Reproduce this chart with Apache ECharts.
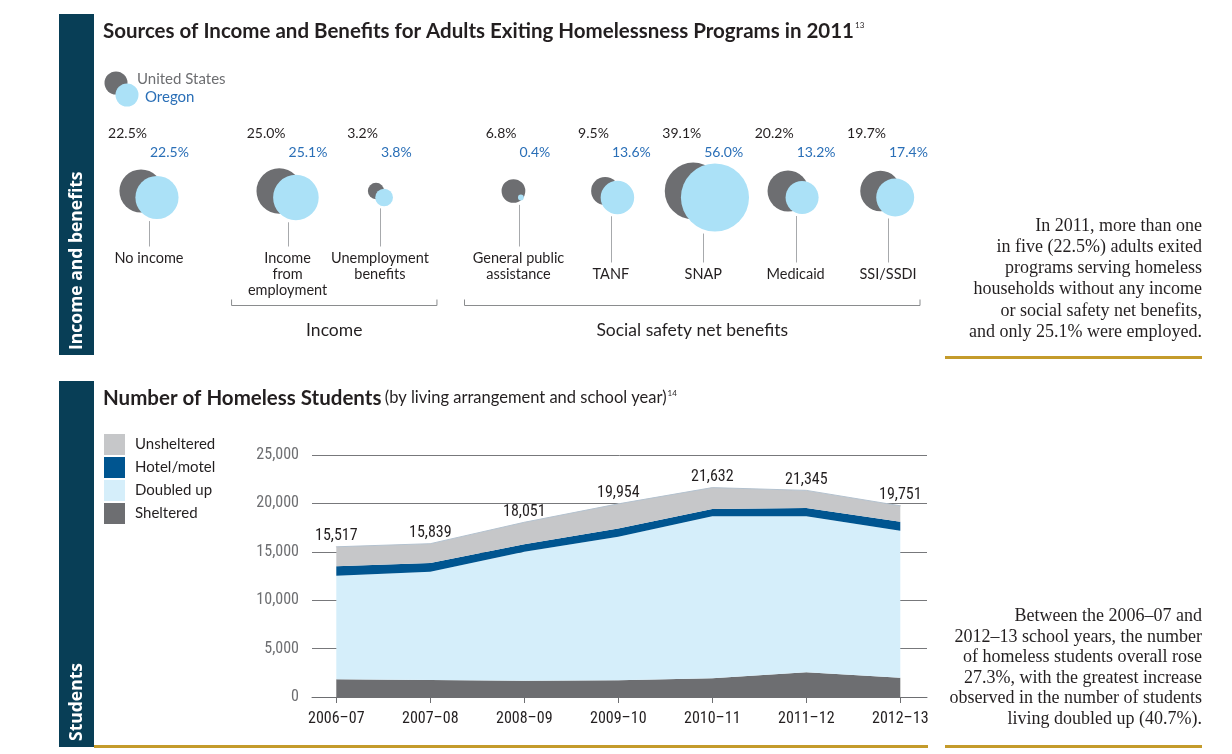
<!DOCTYPE html>
<html><head><meta charset="utf-8">
<script src="https://cdn.jsdelivr.net/npm/echarts@6/dist/echarts.min.js"></script>
<style>html,body{margin:0;padding:0;background:#fff;}#c{width:1232px;height:754px;}</style>
</head><body><div id="c"></div>
<script>
// ---------- Data: bubble chart ----------
const bubbleCategories = ['No income', 'Income\nfrom\nemployment', 'Unemployment\nbenefits', 'General public\nassistance', 'TANF', 'SNAP', 'Medicaid', 'SSI/SSDI'];
const bubbleGroups = [0, 1, 1, 2, 2, 2, 2, 2];
const groupNames = ['', 'Income', 'Social safety net benefits'];
const usValues = [22.5, 25.0, 3.2, 6.8, 9.5, 39.1, 20.2, 19.7];
const oregonValues = [22.5, 25.1, 3.8, 0.4, 13.6, 56.0, 13.2, 17.4];

// ---------- Data: area chart ----------
const schoolYears = ['2006–07', '2007–08', '2008–09', '2009–10', '2010–11', '2011–12', '2012–13'];
const sheltered = [1830, 1760, 1690, 1720, 1930, 2550, 1990];
const doubledUp = [10700, 11190, 13320, 14840, 16740, 16120, 15190];
const hotelMotel = [970, 890, 760, 840, 750, 855, 930];
const unsheltered = [2017, 1999, 2281, 2554, 2212, 1820, 1641];
const totals = [15517, 15839, 18051, 19954, 21632, 21345, 19751];

// ---------- Styles ----------
const NAVY = '#083e56', GOLD = '#c49b2b', DARK = '#231f20', GRAY = '#6d6e71';
const US_COLOR = '#6d6e71', OR_COLOR = '#abe1f7', OR_TEXT = '#2a6fb7';
const SANS = 'Lato, "Noto Sans", sans-serif';
const NARROW = '"Liberation Sans Narrow", "Roboto Condensed", sans-serif';
const SERIF = '"Liberation Serif", "DejaVu Serif", serif';
const groupLabelAlign = ['top', 'top', 'bottom'];
const bracketPad = [[0, 0], [56, 57], [54, 32]];
const K = 4.55; // bubble radius = K * sqrt(percent)

// slot positions on the hidden x axis (gap of 3 between groups, 2 within)
const bubblePos = [];
bubbleGroups.forEach((g, i) => {
  bubblePos.push(i === 0 ? 0 : bubblePos[i - 1] + (g !== bubbleGroups[i - 1] ? 3 : 2));
});
const nLines = s => s.split('\n').length;

function renderBubble(params, api) {
  const i = api.value(4);
  const p = api.coord([api.value(0), 0]);
  const x = p[0], y = p[1];
  const us = api.value(2), or = api.value(3);
  const rU = K * Math.sqrt(us), rO = K * Math.sqrt(or);
  const xU = x - (1.5 + 0.3 * rU), xO = x + 1.5 + 0.3 * rO;
  const yU = y, yO = y + 6.5;
  const g = bubbleGroups[i];
  const lines = nLines(bubbleCategories[i]);
  const maxLines = Math.max(...bubbleCategories.filter((c, j) => bubbleGroups[j] === g).map(nLines));
  const firstLineCenter = y + 67 + (groupLabelAlign[g] === 'bottom' ? (maxLines - lines) * 16 : 0);
  const stemTop = Math.max(yU + rU, yO + rO) + 2;
  const stemBottom = firstLineCenter - 11.5;
  const xs = Math.round(x) + 0.5;
  return {
    type: 'group', children: [
      { type: 'circle', shape: { cx: xU, cy: yU, r: rU }, style: { fill: US_COLOR } },
      { type: 'circle', shape: { cx: xO, cy: yO, r: rO }, style: { fill: OR_COLOR } },
      { type: 'line', shape: { x1: xs, y1: stemTop, x2: xs, y2: stemBottom }, style: { stroke: '#a7a9ac', lineWidth: 1 } },
      { type: 'text', style: { text: us.toFixed(1) + '%', x: x - 2, y: y - 58, fill: DARK, font: '14px ' + SANS, align: 'right', verticalAlign: 'middle', textAlign: 'right', textVerticalAlign: 'middle' } },
      { type: 'text', style: { text: or.toFixed(1) + '%', x: x + 1, y: y - 39, fill: OR_TEXT, font: '14px ' + SANS, align: 'left', verticalAlign: 'middle', textAlign: 'left', textVerticalAlign: 'middle' } },
      { type: 'text', style: { text: bubbleCategories[i], x: x, y: firstLineCenter - 8, lineHeight: 16, fill: DARK, font: '14.5px ' + SANS, align: 'center', verticalAlign: 'top', textAlign: 'center', textVerticalAlign: 'top' } }
    ]
  };
}

function renderBracket(params, api) {
  const g = api.value(2);
  const x1 = api.coord([api.value(0), 0])[0] - bracketPad[g][0];
  const x2 = api.coord([api.value(1), 0])[0] + bracketPad[g][1];
  const y = api.coord([0, 0])[1] + 114.5;
  return {
    type: 'group', children: [
      { type: 'polyline', shape: { points: [[x1, y - 6], [x1, y], [x2, y], [x2, y - 6]] }, style: { stroke: '#8a8c8e', lineWidth: 1, fill: null } },
      { type: 'text', style: { text: groupNames[g], x: (x1 + x2) / 2, y: y + 25, fill: DARK, font: '17.5px ' + SANS, align: 'center', verticalAlign: 'middle', textAlign: 'center', textVerticalAlign: 'middle' } }
    ]
  };
}

const bracketData = [1, 2].map(g => {
  const idx = bubbleGroups.map((gg, i) => gg === g ? i : -1).filter(i => i >= 0);
  return [bubblePos[idx[0]], bubblePos[idx[idx.length - 1]], g];
});

const areaDefs = [
  { name: 'Sheltered', data: sheltered, color: '#6d6e71' },
  { name: 'Doubled up', data: doubledUp, color: '#d5eefa' },
  { name: 'Hotel/motel', data: hotelMotel, color: '#005590' },
  { name: 'Unsheltered', data: unsheltered, color: '#c6c7c9' }
];
const areaSeries = areaDefs.map((s, k) => ({
  type: 'line', name: s.name, stack: 'total', xAxisIndex: 2, yAxisIndex: 2,
  data: s.data,
  symbol: k === 3 ? 'circle' : 'none', symbolSize: 1, showSymbol: k === 3, silent: true,
  lineStyle: k === 3 ? { width: 1, color: '#b4c2cf' } : { width: 0 },
  itemStyle: { color: s.color },
  areaStyle: { color: s.color, opacity: 1 },
  label: k === 3 ? {
    show: true, position: 'top', distance: 2, color: DARK, fontFamily: NARROW, fontSize: 16,
    formatter: p => totals[p.dataIndex].toLocaleString('en-US')
  } : { show: false },
  z: 2
}));

const areaTop = 455, areaBottom = 754 - 697;
const chart = echarts.init(document.getElementById('c'));
chart.setOption({
  animation: false,
  grid: [
    { left: 149, right: 1232 - 888, top: 191, height: 100 },
    { left: 312, right: 1232 - 927, top: areaTop, bottom: areaBottom },
    { left: 336.3, right: 1232 - 900.3, top: areaTop, bottom: areaBottom }
  ],
  xAxis: [
    { gridIndex: 0, type: 'value', min: 0, max: 16, show: false },
    {
      gridIndex: 1, type: 'value', min: 0, max: 1,
      axisLine: { show: true, lineStyle: { color: GRAY, width: 1 } },
      axisTick: { show: false }, axisLabel: { show: false }, splitLine: { show: false }
    },
    {
      gridIndex: 2, type: 'category', data: schoolYears, boundaryGap: false,
      axisLine: { show: false },
      axisTick: { show: true, length: 6, lineStyle: { color: GRAY, width: 1 } },
      axisLabel: { color: DARK, fontFamily: NARROW, fontSize: 16, margin: 14, interval: 0 },
      splitLine: { show: false }
    }
  ],
  yAxis: [
    { gridIndex: 0, type: 'value', min: 0, max: 1, inverse: true, show: false },
    {
      gridIndex: 1, type: 'value', min: 0, max: 25000, interval: 5000,
      axisLine: { show: false }, axisTick: { show: false },
      axisLabel: { color: GRAY, fontFamily: NARROW, fontSize: 16, margin: 13, formatter: v => v.toLocaleString('en-US') },
      splitLine: { show: true, lineStyle: { color: '#77787b', width: 1 } }
    },
    { gridIndex: 2, type: 'value', min: 0, max: 25000, interval: 5000, show: false, splitLine: { show: false } }
  ],
  legend: {
    orient: 'vertical', left: 104, top: 434, padding: 0, itemWidth: 21, itemHeight: 21, itemGap: 2,
    icon: 'rect', selectedMode: false,
    data: ['Unsheltered', 'Hotel/motel', 'Doubled up', 'Sheltered'],
    textStyle: { fontSize: 15, color: DARK, fontFamily: SANS, padding: [0, 0, 0, 5] }
  },
  series: [
    {
      type: 'custom', coordinateSystem: 'cartesian2d', xAxisIndex: 0, yAxisIndex: 0, clip: false, silent: true,
      renderItem: renderBubble, encode: { x: 0, y: 1 },
      data: bubbleCategories.map((c, i) => [bubblePos[i], 0, usValues[i], oregonValues[i], i])
    },
    {
      type: 'custom', coordinateSystem: 'cartesian2d', xAxisIndex: 0, yAxisIndex: 0, clip: false, silent: true,
      renderItem: renderBracket, encode: { x: 0, y: 1 },
      data: bracketData
    },
    ...areaSeries
  ],
  graphic: [
    { type: 'rect', shape: { x: 59, y: 14, width: 35, height: 341 }, style: { fill: NAVY } },
    { type: 'rect', shape: { x: 59, y: 381, width: 35, height: 366 }, style: { fill: NAVY } },
    { type: 'text', x: 77, y: 350, rotation: Math.PI / 2, style: { text: 'Income and benefits', fill: '#fff', font: 'bold 17.5px "Open Sans", sans-serif', align: 'left', verticalAlign: 'middle', textAlign: 'left', textVerticalAlign: 'middle' } },
    { type: 'text', x: 77, y: 741, rotation: Math.PI / 2, style: { text: 'Students', fill: '#fff', font: 'bold 17.5px "Open Sans", sans-serif', align: 'left', verticalAlign: 'middle', textAlign: 'left', textVerticalAlign: 'middle' } },
    {
      type: 'text', x: 103, y: 31, style: {
        text: '{t|Sources of Income and Benefits for Adults Exiting Homelessness Programs in 2011}{s|13}',
        verticalAlign: 'middle', textVerticalAlign: 'middle',
        rich: { t: { font: 'bold 20.5px ' + SANS, fill: DARK, color: DARK }, s: { font: '8px ' + SANS, fill: DARK, color: DARK, padding: [0, 0, 11, 1] } }
      }
    },
    {
      type: 'text', x: 103, y: 398, style: {
        text: '{t|Number of Homeless Students} {r|(by living arrangement and school year)}{s|14}',
        verticalAlign: 'middle', textVerticalAlign: 'middle',
        rich: { t: { font: 'bold 20.5px ' + SANS, fill: DARK, color: DARK }, r: { font: '16.5px ' + SANS, fill: DARK, color: DARK }, s: { font: '8px ' + SANS, fill: DARK, color: DARK, padding: [0, 0, 9, 1] } }
      }
    },
    { type: 'circle', shape: { cx: 116, cy: 83, r: 11.5 }, style: { fill: US_COLOR } },
    { type: 'circle', shape: { cx: 127, cy: 95, r: 11.5 }, style: { fill: OR_COLOR } },
    { type: 'text', x: 137, y: 79, style: { text: 'United States', fill: GRAY, font: '15px ' + SANS, verticalAlign: 'middle', textVerticalAlign: 'middle' } },
    { type: 'text', x: 145, y: 97, style: { text: 'Oregon', fill: OR_TEXT, font: '15px ' + SANS, verticalAlign: 'middle', textVerticalAlign: 'middle' } },
    {
      type: 'text', x: 1202, y: 215.5, style: {
        text: 'In 2011, more than one\nin five (22.5%) adults exited\nprograms serving homeless\nhouseholds without any income\nor social safety net benefits,\nand only 25.1% were employed.',
        fill: DARK, font: '18px ' + SERIF, lineHeight: 21.2, align: 'right', textAlign: 'right', verticalAlign: 'top', textVerticalAlign: 'top'
      }
    },
    {
      type: 'text', x: 1202, y: 606, style: {
        text: 'Between the 2006–07 and\n2012–13 school years, the number\nof homeless students overall rose\n27.3%, with the greatest increase\nobserved in the number of students\nliving doubled up (40.7%).',
        fill: DARK, font: '18px ' + SERIF, lineHeight: 20.6, align: 'right', textAlign: 'right', verticalAlign: 'top', textVerticalAlign: 'top'
      }
    },
    { type: 'rect', shape: { x: 945, y: 356, width: 257, height: 3 }, style: { fill: GOLD } },
    { type: 'rect', shape: { x: 945, y: 745, width: 257, height: 3 }, style: { fill: GOLD } },
    { type: 'rect', shape: { x: 94, y: 745, width: 834, height: 3 }, style: { fill: GOLD } }
  ]
});
</script>
</body></html>
